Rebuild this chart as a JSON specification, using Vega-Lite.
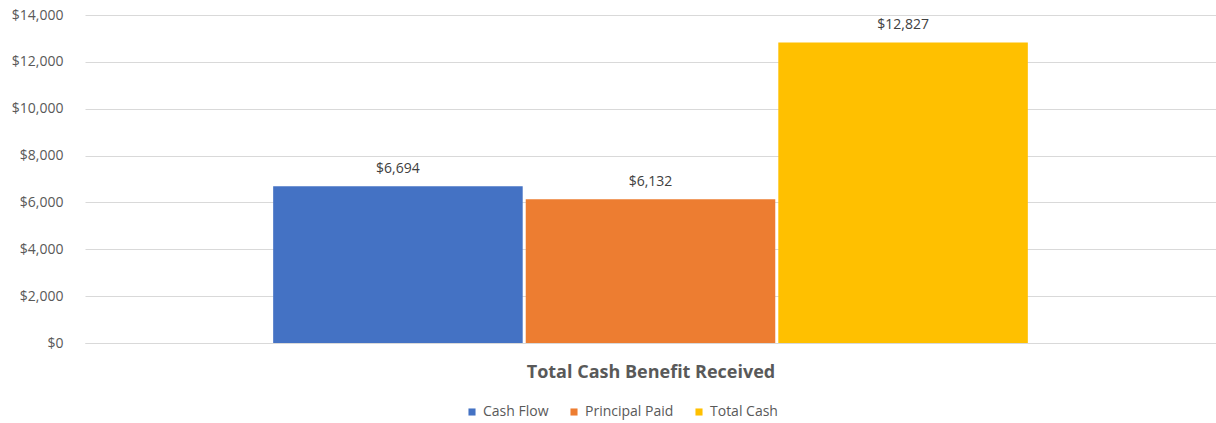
{
  "$schema": "https://vega.github.io/schema/vega-lite/v6.json",
  "width": 1131,
  "height": 328,
  "autosize": {"type": "none"},
  "padding": {"left": 85, "top": 15, "right": 0, "bottom": 80},
  "background": "white",
  "config": {
    "view": {"stroke": null},
    "font": "Open Sans",
    "axis": {"labelFont": "Open Sans", "titleFont": "Open Sans"},
    "legend": {"labelFont": "Open Sans"}
  },
  "data": {
    "values": [
      {"category": "Total Cash Benefit Received", "series": "Cash Flow", "value": 6694},
      {"category": "Total Cash Benefit Received", "series": "Principal Paid", "value": 6132},
      {"category": "Total Cash Benefit Received", "series": "Total Cash", "value": 12827}
    ]
  },
  "encoding": {
    "x": {
      "field": "series",
      "type": "nominal",
      "sort": ["Cash Flow", "Principal Paid", "Total Cash"],
      "scale": {"paddingInner": 0.012, "paddingOuter": 0.745},
      "axis": {
        "title": "Total Cash Benefit Received",
        "labels": false,
        "ticks": false,
        "domain": true,
        "domainColor": "#d9d9d9",
        "titleFontSize": 18,
        "titleFontWeight": "bold",
        "titleColor": "#595959",
        "titlePadding": 20
      }
    },
    "y": {
      "field": "value",
      "type": "quantitative",
      "scale": {"domain": [0, 14000]},
      "axis": {
        "title": null,
        "values": [0, 2000, 4000, 6000, 8000, 10000, 12000, 14000],
        "format": "$,.0f",
        "domain": false,
        "ticks": false,
        "gridColor": "#d9d9d9",
        "labelColor": "#595959",
        "labelFontSize": 14,
        "labelPadding": 22
      }
    }
  },
  "layer": [
    {
      "mark": {"type": "bar"},
      "encoding": {
        "color": {
          "field": "series",
          "type": "nominal",
          "sort": ["Cash Flow", "Principal Paid", "Total Cash"],
          "scale": {"domain": ["Cash Flow", "Principal Paid", "Total Cash"], "range": ["#4472C4", "#ED7D31", "#FFC000"]},
          "legend": {
            "title": null,
            "orient": "none",
            "legendX": 380,
            "legendY": 390,
            "direction": "horizontal",
            "symbolType": "square",
            "symbolSize": 50,
            "symbolStrokeWidth": 0,
            "labelFontSize": 14,
            "labelColor": "#595959",
            "columnPadding": 18
          }
        }
      }
    },
    {
      "mark": {"type": "text", "dy": -17, "fontSize": 14, "color": "#404040"},
      "encoding": {
        "text": {"field": "value", "type": "quantitative", "format": "$,.0f"}
      }
    }
  ]
}
